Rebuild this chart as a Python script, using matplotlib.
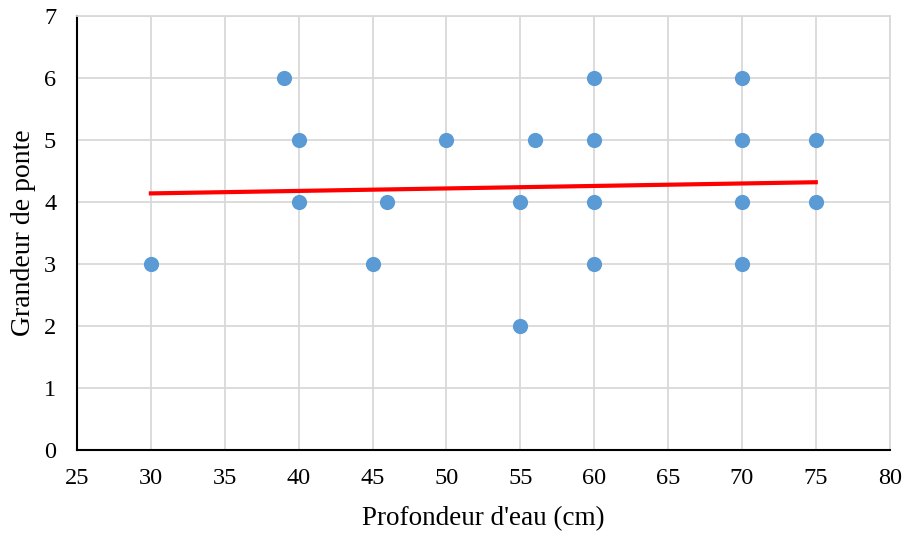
import matplotlib
matplotlib.use('Agg')
import matplotlib.pyplot as plt

plt.rcParams['font.family'] = ['Liberation Serif', 'DejaVu Serif']

# profondeur d'eau (cm) et grandeur de ponte
depth = [30, 39, 40, 40, 45, 46, 50, 55, 55, 56, 60, 60, 60, 60, 70, 70, 70, 70, 75, 75]
clutch = [3, 6, 5, 4, 3, 4, 5, 4, 2, 5, 6, 5, 4, 3, 6, 5, 4, 3, 5, 4]

# courbe de tendance lineaire
trend_x = [30, 75]
trend_y = [4.14, 4.32]

xticks = [25, 30, 35, 40, 45, 50, 55, 60, 65, 70, 75, 80]
yticks = [0, 1, 2, 3, 4, 5, 6, 7]

fig = plt.figure(figsize=(9.08, 5.34), dpi=100)
ax = fig.add_axes([0.0848, 0.157, 0.895, 0.813])

ax.grid(True, color='#d9d9d9', linewidth=1.3, zorder=0)
ax.scatter(depth, clutch, s=120, color='#5b9bd5', zorder=3, linewidths=0)
ax.plot(trend_x, trend_y, color='#ff0000', linewidth=3, zorder=4)

ax.set_xlim(25, 80)
ax.set_ylim(0, 7)
ax.set_xticks(xticks)
ax.set_yticks(yticks)
ax.tick_params(length=0, labelsize=17.5)
ax.tick_params(axis='x', pad=13)
ax.tick_params(axis='y', pad=15)

for s in ['top', 'right']:
    ax.spines[s].set_color('#d9d9d9')
    ax.spines[s].set_linewidth(1.3)
for s in ['left', 'bottom']:
    ax.spines[s].set_color('black')
    ax.spines[s].set_linewidth(1.5)

ax.set_xlabel("Profondeur d'eau (cm)", fontsize=19.5, labelpad=12)
ax.set_ylabel('Grandeur de ponte', fontsize=20, labelpad=6)

fig.savefig('out.png', dpi=100)
